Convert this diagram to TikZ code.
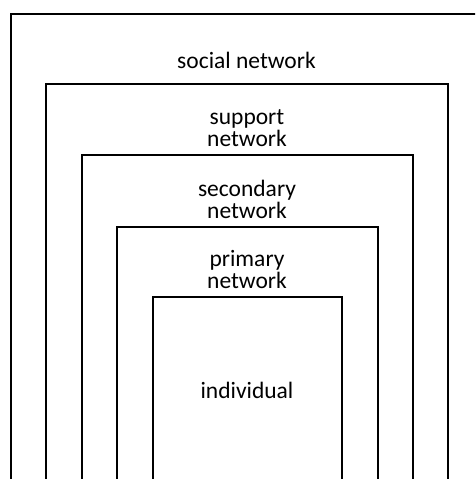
\documentclass[tikz,border=0pt]{standalone}
\usepackage{fontspec}
\setmainfont{Carlito}
\begin{document}
\begin{tikzpicture}[x=1pt,y=-1pt,
  layer/.style={draw=black,line width=2pt},
  lbl/.style={font=\fontsize{23.5}{22}\selectfont,align=center,inner sep=0pt,anchor=base}]
\useasboundingbox (0,0) rectangle (475,479);
\clip (0,0) rectangle (475,479);
% nested networks, open at the bottom
\draw[layer] (10.5,500) -- (10.5,13.5) -- (484,13.5) -- (484,500);
\draw[layer] (46,500) -- (46,84) -- (448,84) -- (448,500);
\draw[layer] (81.5,500) -- (81.5,155) -- (413,155) -- (413,500);
\draw[layer] (117,500) -- (117,226.5) -- (378,226.5) -- (378,500);
\draw[layer] (152.5,500) -- (152.5,297) -- (342,297) -- (342,500);
% labels (anchored at the baseline of their last line)
\node[lbl] (social) at (246.5,68.3) {social network};
\node[lbl] (support) at (247,146.7) {support\\network};
\node[lbl] (secondary) at (247,218) {secondary\\network};
\node[lbl] (primary) at (247,288.3) {primary\\network};
\node[lbl] (individual) at (247,398.3) {individual};
\end{tikzpicture}
\end{document}
